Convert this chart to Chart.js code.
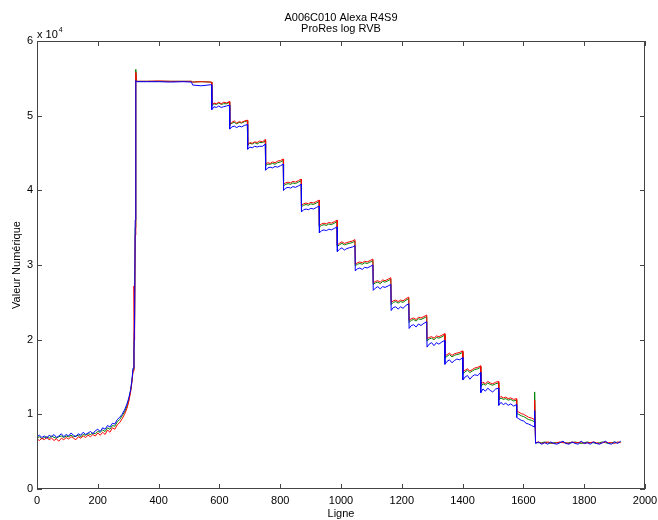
<!DOCTYPE html>
<html>
<head>
<meta charset="utf-8">
<title>A006C010 Alexa R4S9</title>
<script src="https://cdn.jsdelivr.net/npm/chart.js@4/dist/chart.umd.min.js"></script>
<style>
html,body{margin:0;padding:0;background:#fff;}
canvas{display:block;}
</style>
</head>
<body>
<canvas id="c" width="658" height="520"></canvas>
<script>
// ---- Text ----
const titleLines = ["A006C010 Alexa R4S9", "ProRes log RVB"];
const xAxisTitle = "Ligne";
const yAxisTitle = "Valeur Numérique";
const xTicks = [0, 200, 400, 600, 800, 1000, 1200, 1400, 1600, 1800, 2000];
const yTicks = [0, 1, 2, 3, 4, 5, 6]; // x 10^4

// ---- Data (values in units of 10^4) ----
// Rising toe, lines 0..325
const leftX = [0,8,16,24,32,40,48,56,64,72,80,88,96,104,112,120,128,136,144,152,160,168,176,184,192,200,208,216,224,232,240,248,256,264,272,280,288,296,302,308,312,316,319,321,323,325];
const redLeft   = [.67,.65,.68,.66,.69,.66,.68,.65,.67,.64,.68,.66,.69,.67,.70,.68,.66,.70,.68,.71,.69,.72,.70,.73,.71,.75,.72,.76,.73,.79,.76,.82,.80,.86,.89,.94,1.00,1.08,1.17,1.30,1.42,1.58,2.72,2.00,3.40,5.58];
const greenLeft = [.68,.70,.67,.69,.70,.68,.71,.69,.68,.70,.71,.69,.71,.70,.72,.70,.71,.72,.70,.73,.72,.74,.73,.75,.74,.77,.76,.79,.77,.82,.80,.85,.84,.90,.93,.98,1.03,1.11,1.20,1.32,1.44,1.60,1.84,2.20,3.50,5.62];
const blueLeft  = [.70,.72,.69,.71,.68,.72,.70,.73,.69,.71,.74,.70,.73,.71,.75,.72,.70,.74,.72,.76,.73,.75,.77,.74,.78,.80,.77,.82,.80,.85,.83,.88,.87,.93,.96,1.00,1.06,1.14,1.22,1.33,1.45,1.62,1.85,2.30,3.60,5.47];

// Top plateau
const plateauX = [327,360,400,440,480,508,512,540,574];
const redPlateau   = [5.46,5.46,5.465,5.46,5.46,5.46,5.45,5.455,5.45];
const greenPlateau = [5.46,5.46,5.46,5.46,5.46,5.46,5.45,5.455,5.45];
const bluePlateau  = [5.455,5.455,5.455,5.45,5.455,5.45,5.41,5.40,5.415];

// Staircase: start line of each step, and the sampled lines inside a step
const stepStarts = [574,633,692,751,810,869,928,987,1046,1105,1164,1223,1282,1341,1400,1459,1518,1577];
const stepOffsets = [1,8,16,24,32,40,50,59];
const redSteps = [
  [5.14,5.17,5.16,5.18,5.16,5.18,5.17,5.19],
  [4.88,4.91,4.93,4.90,4.92,4.91,4.93,4.94],
  [4.61,4.64,4.63,4.65,4.64,4.66,4.65,4.68],
  [4.35,4.37,4.36,4.38,4.37,4.39,4.40,4.42],
  [4.08,4.10,4.11,4.10,4.12,4.11,4.13,4.15],
  [3.80,3.82,3.83,3.82,3.84,3.83,3.85,3.87],
  [3.53,3.55,3.56,3.55,3.57,3.56,3.58,3.60],
  [3.27,3.29,3.31,3.29,3.30,3.31,3.32,3.34],
  [3.01,3.03,3.04,3.03,3.05,3.04,3.06,3.08],
  [2.76,2.78,2.79,2.77,2.80,2.79,2.81,2.83],
  [2.50,2.52,2.53,2.51,2.53,2.52,2.55,2.57],
  [2.26,2.28,2.29,2.27,2.30,2.29,2.31,2.33],
  [2.01,2.03,2.04,2.02,2.05,2.04,2.06,2.08],
  [1.78,1.80,1.82,1.79,1.81,1.82,1.83,1.85],
  [1.57,1.59,1.61,1.58,1.60,1.62,1.63,1.65],
  [1.40,1.43,1.41,1.44,1.42,1.41,1.43,1.44],
  [1.21,1.24,1.22,1.23,1.21,1.22,1.20,1.21],
  [1.04,1.03,1.01,1.00,0.98,0.96,0.95,0.93]
];
const greenSteps = [
  [5.13,5.16,5.15,5.17,5.15,5.16,5.16,5.18],
  [4.87,4.90,4.91,4.89,4.91,4.90,4.92,4.93],
  [4.60,4.63,4.62,4.64,4.62,4.64,4.64,4.66],
  [4.33,4.35,4.35,4.36,4.35,4.37,4.38,4.40],
  [4.06,4.08,4.09,4.08,4.10,4.09,4.11,4.13],
  [3.78,3.80,3.81,3.80,3.82,3.81,3.83,3.85],
  [3.51,3.53,3.54,3.53,3.55,3.54,3.56,3.58],
  [3.25,3.27,3.29,3.27,3.28,3.29,3.30,3.32],
  [2.99,3.01,3.02,3.01,3.03,3.02,3.04,3.06],
  [2.74,2.76,2.77,2.75,2.78,2.77,2.79,2.81],
  [2.47,2.50,2.51,2.49,2.51,2.50,2.53,2.55],
  [2.23,2.26,2.27,2.25,2.28,2.27,2.29,2.31],
  [1.98,2.01,2.02,2.00,2.03,2.02,2.04,2.06],
  [1.75,1.78,1.80,1.77,1.79,1.80,1.81,1.83],
  [1.54,1.57,1.59,1.56,1.58,1.60,1.61,1.63],
  [1.37,1.41,1.39,1.42,1.40,1.39,1.41,1.42],
  [1.19,1.22,1.20,1.21,1.19,1.20,1.18,1.19],
  [1.01,1.00,0.98,0.97,0.95,0.93,0.92,0.90]
];
const blueSteps = [
  [5.08,5.12,5.11,5.13,5.11,5.12,5.13,5.14],
  [4.82,4.85,4.86,4.84,4.86,4.85,4.87,4.88],
  [4.55,4.58,4.57,4.59,4.58,4.59,4.59,4.62],
  [4.27,4.30,4.31,4.30,4.32,4.31,4.33,4.35],
  [4.00,4.03,4.04,4.03,4.05,4.04,4.06,4.08],
  [3.71,3.74,3.75,3.74,3.76,3.75,3.77,3.79],
  [3.43,3.46,3.47,3.46,3.48,3.47,3.49,3.51],
  [3.18,3.21,3.23,3.20,3.22,3.23,3.24,3.26],
  [2.92,2.95,2.96,2.94,2.97,2.96,2.98,3.00],
  [2.66,2.69,2.71,2.68,2.71,2.70,2.72,2.74],
  [2.39,2.43,2.44,2.41,2.44,2.42,2.46,2.48],
  [2.15,2.19,2.20,2.17,2.21,2.19,2.22,2.24],
  [1.90,1.94,1.96,1.92,1.96,1.94,1.97,1.99],
  [1.67,1.71,1.73,1.69,1.72,1.74,1.73,1.76],
  [1.46,1.50,1.52,1.47,1.51,1.53,1.52,1.56],
  [1.29,1.34,1.31,1.35,1.32,1.30,1.34,1.35],
  [1.12,1.16,1.13,1.15,1.12,1.14,1.11,1.13],
  [0.96,0.94,0.92,0.91,0.88,0.87,0.85,0.83]
];

// Spike at the end of the staircase
const spikeX = [1637];
const redSpike = [1.19];
const greenSpike = [1.30];
const blueSpike = [1.05];

// Bottom floor, lines 1640..1920
const floorX = [1640,1650,1660,1670,1680,1690,1700,1710,1720,1730,1740,1750,1760,1770,1780,1790,1800,1810,1820,1830,1840,1850,1860,1870,1880,1890,1900,1910,1920];
const redFloor   = [.62,.63,.61,.62,.63,.62,.61,.62,.63,.62,.62,.61,.63,.62,.62,.63,.61,.62,.62,.63,.62,.61,.62,.63,.62,.62,.61,.63,.62];
const greenFloor = [.62,.62,.62,.63,.62,.61,.62,.62,.62,.63,.61,.62,.62,.63,.62,.61,.62,.63,.62,.62,.61,.62,.63,.62,.61,.62,.63,.62,.63];
const blueFloor  = [.61,.63,.60,.62,.60,.63,.61,.60,.62,.64,.61,.60,.63,.61,.60,.64,.61,.62,.60,.63,.61,.60,.62,.64,.61,.60,.63,.61,.64];

// ---- Build point tables ----
function buildSeries(left, plateau, steps, spike, floor) {
  const pts = [];
  leftX.forEach((x, i) => pts.push({x: x, y: left[i]}));
  plateauX.forEach((x, i) => pts.push({x: x, y: plateau[i]}));
  stepStarts.forEach((s, k) => stepOffsets.forEach((o, j) => pts.push({x: s + o, y: steps[k][j]})));
  spikeX.forEach((x, i) => pts.push({x: x, y: spike[i]}));
  floorX.forEach((x, i) => pts.push({x: x, y: floor[i]}));
  return pts;
}
const redData = buildSeries(redLeft, redPlateau, redSteps, redSpike, redFloor);
const greenData = buildSeries(greenLeft, greenPlateau, greenSteps, greenSpike, greenFloor);
const blueData = buildSeries(blueLeft, bluePlateau, blueSteps, blueSpike, blueFloor);

const FONT = '"Liberation Sans", Helvetica, Arial, sans-serif';
const AXIS_COLOR = '#444444';

const decor = {
  id: 'decor',
  afterDraw(chart) {
    const ctx = chart.ctx;
    const a = chart.chartArea;
    const xs = chart.scales.x, ys = chart.scales.y;
    ctx.save();
    // frame
    ctx.strokeStyle = AXIS_COLOR;
    ctx.lineWidth = 1;
    ctx.strokeRect(Math.round(a.left) + 0.5, Math.round(a.top) + 0.5, Math.round(a.right - a.left) - 1, Math.round(a.bottom - a.top) - 1);
    // inward ticks
    const TL = 5;
    ctx.beginPath();
    xTicks.forEach(v => {
      const px = Math.round(xs.getPixelForValue(v)) + 0.5;
      ctx.moveTo(px, a.bottom); ctx.lineTo(px, a.bottom - TL);
      ctx.moveTo(px, a.top); ctx.lineTo(px, a.top + TL);
    });
    yTicks.forEach(v => {
      const py = Math.round(ys.getPixelForValue(v)) + 0.5;
      ctx.moveTo(a.left, py); ctx.lineTo(a.left + TL, py);
      ctx.moveTo(a.right, py); ctx.lineTo(a.right - TL, py);
    });
    ctx.stroke();
    // titles
    ctx.fillStyle = '#000';
    ctx.font = '11px ' + FONT;
    ctx.textAlign = 'center';
    ctx.textBaseline = 'alphabetic';
    const cx = (a.left + a.right) / 2;
    ctx.fillText(titleLines[0], cx, 20.5);
    ctx.fillText(titleLines[1], cx, 32);
    // x axis title
    ctx.fillText(xAxisTitle, cx, 517);
    // y axis title
    ctx.save();
    ctx.translate(20, (a.top + a.bottom) / 2);
    ctx.rotate(-Math.PI / 2);
    ctx.fillText(yAxisTitle, 0, 0);
    ctx.restore();
    // exponent label
    ctx.textAlign = 'left';
    ctx.fillText('x 10', 37, 37.5);
    const w = ctx.measureText('x 10').width;
    ctx.font = '7px ' + FONT;
    ctx.fillText('4', 37 + w + 1, 31.5);
    ctx.restore();
  }
};

const lineDs = (label, data, color, order) => ({
  label: label, data: data, borderColor: color, backgroundColor: color,
  borderWidth: 1, pointRadius: 0, tension: 0, fill: false, order: order
});

new Chart(document.getElementById('c'), {
  type: 'line',
  data: {
    datasets: [
      lineDs('R', redData, '#ff0000', 2),
      lineDs('V', greenData, '#008000', 3),
      lineDs('B', blueData, '#0000ff', 1)
    ]
  },
  options: {
    responsive: false,
    animation: false,
    devicePixelRatio: 1,
    layout: {padding: {left: 0, top: 41, right: 13, bottom: 0}},
    plugins: {legend: {display: false}, title: {display: false}, tooltip: {enabled: false}},
    scales: {
      x: {
        type: 'linear', min: 0, max: 2000,
        afterBuildTicks: s => { s.ticks = xTicks.map(v => ({value: v})); },
        afterFit: s => { s.height = 31; s.paddingLeft = 0; s.paddingRight = 0; },
        ticks: {color: '#000', font: {family: FONT, size: 11}, padding: 5, maxRotation: 0, autoSkip: false, callback: v => String(v)},
        grid: {display: false, drawTicks: false},
        border: {display: false}
      },
      y: {
        type: 'linear', min: 0, max: 6,
        afterBuildTicks: s => { s.ticks = yTicks.map(v => ({value: v})); },
        afterFit: s => { s.width = 37; s.paddingTop = 0; s.paddingBottom = 0; },
        ticks: {color: '#000', font: {family: FONT, size: 11}, padding: 4, autoSkip: false, callback: v => String(v)},
        grid: {display: false, drawTicks: false},
        border: {display: false}
      }
    }
  },
  plugins: [decor]
});
</script>
</body>
</html>
